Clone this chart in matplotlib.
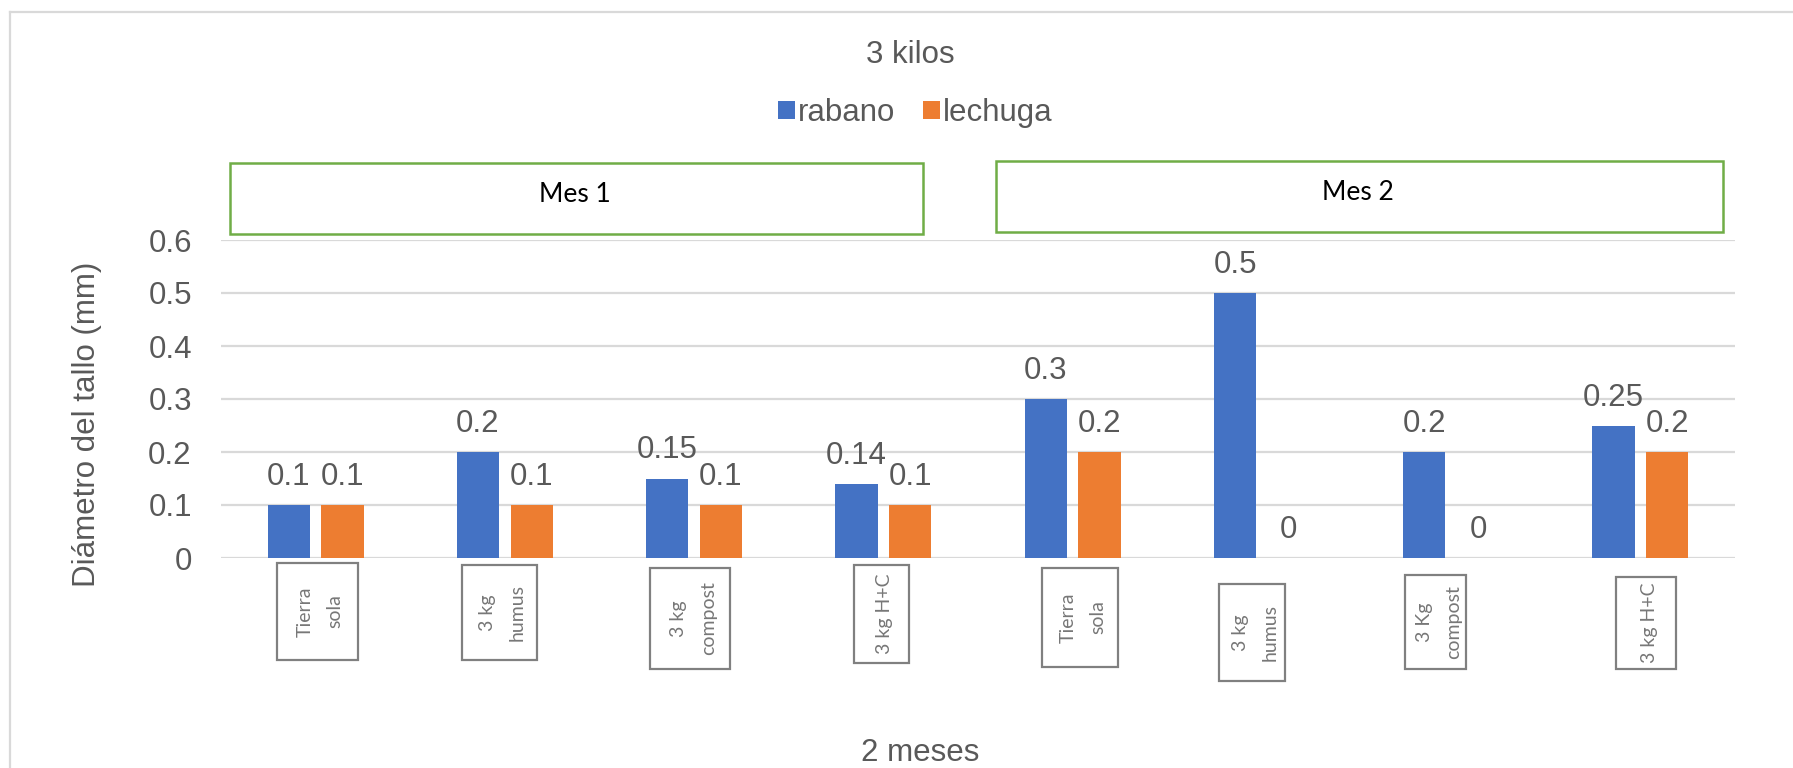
import numpy as np
import matplotlib
matplotlib.use("Agg")
import matplotlib.pyplot as plt
from matplotlib.patches import Rectangle, Patch
from matplotlib.lines import Line2D
from matplotlib.transforms import IdentityTransform

# ---- data ----
categories = ["Tierra\nsola", "3 kg\nhumus", "3 kg\ncompost", "3 kg H+C",
              "Tierra\nsola", "3 kg\nhumus", "3 Kg\ncompost", "3 kg H+C"]
rabano = [0.1, 0.2, 0.15, 0.14, 0.3, 0.5, 0.2, 0.25]
lechuga = [0.1, 0.1, 0.1, 0.1, 0.2, 0, 0, 0.2]
series_names = ["rabano", "lechuga"]
months = ["Mes 1", "Mes 2"]
y_ticks = [0, 0.1, 0.2, 0.3, 0.4, 0.5, 0.6]

# ---- style ----
W, H, DPI = 1793, 768, 100
BLUE, ORANGE = "#4472C4", "#ED7D31"
GRID = "#D9D9D9"
TXT = "#595959"
GREEN = "#70AD47"
FS = 22.5
plt.rcParams["font.family"] = ["Liberation Sans", "DejaVu Sans"]

fig = plt.figure(figsize=(W / DPI, H / DPI), dpi=DPI)
fig.patch.set_facecolor("white")

# plot area in pixels (left, right, top, bottom)
L, R, T, B = 221, 1735, 240, 558
ax = fig.add_axes([L / W, (H - B) / H, (R - L) / W, (B - T) / H])

x = np.arange(len(categories))
bw, off = 0.222, 0.142
ax.bar(x - off, rabano, bw, color=BLUE, zorder=3)
ax.bar(x + off, lechuga, bw, color=ORANGE, zorder=3)

ax.set_xlim(-0.5, len(categories) - 0.5)
ax.set_ylim(0, 0.6)
ax.set_yticks(y_ticks)
ax.set_yticklabels([f"{t:g}" for t in y_ticks])
ax.tick_params(axis="y", length=0, pad=21, labelsize=FS, labelcolor=TXT)
ax.set_xticks([])
for s in ax.spines.values():
    s.set_visible(False)
ax.grid(axis="y", color=GRID, linewidth=1.6, zorder=0)
ax.set_axisbelow(True)

# value labels above each bar
for xs, vals in ((x - off, rabano), (x + off, lechuga)):
    for xi, v in zip(xs, vals):
        ax.annotate(f"{v:g}", (xi, v), xytext=(0, 14.4), textcoords="offset points",
                    ha="center", va="baseline", fontsize=FS, color=TXT, zorder=4)

# boxed, rotated category labels below the axis
box_shift = [0.01, -0.03, -0.02, -0.01, 0.04, -0.05, -0.08, 0.03]
box_w = [81, 75, 80, 55, 76, 66, 61, 60]
box_top = [563, 565, 568, 565, 568, 584, 575, 577]
box_bot = [660, 660, 669, 663, 667, 681, 669, 669]
fig.canvas.draw()
for i, lab in enumerate(categories):
    cx = ax.transData.transform((i + box_shift[i], 0))[0]
    y0 = H - box_bot[i]
    h = box_bot[i] - box_top[i]
    rect = Rectangle((cx - box_w[i] / 2, y0), box_w[i], h, transform=IdentityTransform(),
                     facecolor="white", edgecolor="#808080", linewidth=1.6)
    fig.add_artist(rect)
    fig.text(cx + 3, y0 + h / 2, lab, transform=IdentityTransform(), rotation=90,
             ha="center", va="center", multialignment="center", fontsize=14,
             color="#777777", family=["Lato", "DejaVu Sans"], linespacing=1.9)

# month boxes
month_boxes = [(230, 923, 163, 234), (996, 1723, 161, 232)]
month_text = [(575, 202), (1358, 200)]
for (x0, x1, yt, yb), (tx, tb), m in zip(month_boxes, month_text, months):
    fig.add_artist(Rectangle((x0, H - yb), x1 - x0, yb - yt, transform=IdentityTransform(),
                             facecolor="white", edgecolor=GREEN, linewidth=1.8))
    fig.text(tx, H - tb, m, transform=IdentityTransform(), ha="center", va="baseline",
             fontsize=19, color="black", family=["Lato", "DejaVu Sans"])

# title, axis titles
fig.text(910, H - 63, "3 kilos", transform=IdentityTransform(), ha="center",
         va="baseline", fontsize=FS, color=TXT)
fig.text(920, H - 761, "2 meses", transform=IdentityTransform(), ha="center",
         va="baseline", fontsize=FS, color=TXT)
fig.text(87, H - 424, "Diámetro del tallo (mm)", transform=IdentityTransform(),
         ha="center", va="center", rotation=90, fontsize=FS, color=TXT)

# legend
handles = [Patch(facecolor=BLUE), Patch(facecolor=ORANGE)]
fig.legend(handles, series_names, loc="center", bbox_to_anchor=(915 / W, 1 - 113 / H),
           ncol=2, frameon=False, fontsize=FS, labelcolor=TXT, handlelength=0.55,
           handleheight=0.55, handletextpad=0.08, columnspacing=0.9, borderpad=0)

# chart frame (top and left edges)
fig.add_artist(Line2D([10, W], [H - 12, H - 12], transform=IdentityTransform(),
                      color=GRID, linewidth=1.6))
fig.add_artist(Line2D([10, 10], [0, H - 12], transform=IdentityTransform(),
                      color=GRID, linewidth=1.6))

fig.savefig("out.png", dpi=DPI, facecolor="white")
